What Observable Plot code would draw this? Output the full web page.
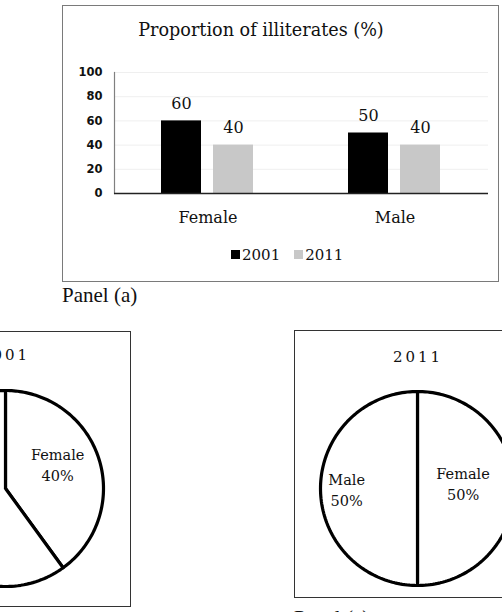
<!DOCTYPE html>
<html><head><meta charset="utf-8">
<script src="https://cdn.jsdelivr.net/npm/d3@7"></script>
<script src="https://cdn.jsdelivr.net/npm/@observablehq/plot@0.6"></script>
<style>
body{margin:0;background:#fff;}
#root{position:relative;width:502px;height:612px;overflow:hidden;background:#fff;}
.abs{position:absolute;}
.lg-swatch{margin-right:14px !important;}
.lg-swatch > svg{margin-right:2px !important;}
</style></head><body><div id="root"></div>
<script>
// ---- data ----
const genders = ["Female", "Male"];
const years = ["2001", "2011"];
const illiterate2001 = [60, 50];
const illiterate2011 = [40, 40];
const yTicks = [0, 20, 40, 60, 80, 100];
const pieNames2001 = ["Female", "Male"];
const pieShares2001 = [40, 60];
const pieNames2011 = ["Female", "Male"];
const pieShares2011 = [50, 50];
const barTitle = "Proportion of illiterates (%)";
const pieTitles = ["2001", "2011"];
const panelLabels = ["Panel (a)", "Panel (c)"];
const yearColors = ["#000000", "#c8c8c8"];

const root = document.getElementById("root");
function place(el, css) { el.classList.add("abs"); Object.assign(el.style, css); root.appendChild(el); return el; }
function div(text, css) { const d = document.createElement("div"); d.textContent = text; return place(d, css); }

// ---- Panel (a) box ----
div("", {left: "62px", top: "5px", width: "437px", height: "277px", boxSizing: "border-box", border: "1px solid #7a7a7a"});
div(barTitle, {left: "61px", top: "18px", width: "400px", textAlign: "center", fontFamily: "'DejaVu Serif'", fontSize: "17.6px", lineHeight: "24px", color: "#111"});

const rows = genders.flatMap((g, i) => [
  {gender: g, year: years[0], value: illiterate2001[i]},
  {gender: g, year: years[1], value: illiterate2011[i]}
]);

const bar = Plot.plot({
  width: 436, height: 173,
  marginLeft: 50, marginRight: 11, marginTop: 11, marginBottom: 41,
  fx: {domain: genders, padding: 0, label: null},
  x: {domain: years, paddingInner: 0.226, paddingOuter: 0.882, axis: null},
  y: {domain: [0, 100], label: null},
  color: {domain: years, range: yearColors},
  style: {fontFamily: "'DejaVu Serif'", fontSize: "16px", color: "#111", background: "transparent", overflow: "visible"},
  marks: [
    Plot.gridY(yTicks.slice(1), {stroke: "#efefef", strokeOpacity: 1}),
    Plot.frame({anchor: "left", facetAnchor: "left", stroke: "#808080", strokeWidth: 1.2}),
    Plot.axisY(yTicks, {tickSize: 0, tickPadding: 12, fontFamily: "'DejaVu Sans'", fontWeight: "bold", fontSize: 11.5, label: null}),
    Plot.axisFx({anchor: "bottom", tickSize: 0, tickPadding: 18, fontSize: 16, label: null}),
    Plot.barY(rows, {fx: "gender", x: "year", y: "value", fill: "year"}),
    Plot.ruleY([0], {stroke: "#222", strokeWidth: 1.3}),
    Plot.text(rows, {fx: "gender", x: "year", y: "value", text: d => String(d.value), dy: -17, fontSize: 16, fill: "#111"})
  ]
});
place(bar, {left: "63px", top: "61px"});

const legend = bar.legend("color", {legend: "swatches", swatchSize: 9, className: "lg",
  style: {fontFamily: "'DejaVu Serif'", fontSize: "15px", color: "#111", margin: "0"}});
place(legend, {left: "231px", top: "238px"});

div(panelLabels[0], {left: "62px", top: "282px", fontFamily: "'Liberation Serif'", fontSize: "21px", lineHeight: "26px", color: "#111"});

// ---- pies ----
function piePlot(names, shares, r, labelRadius, labelDy) {
  const arcs = d3.pie().sort(null).value(d => d)(shares);
  const pts = [];
  const labels = [];
  arcs.forEach((a, i) => {
    pts.push({slice: i, x: 0, y: 0});
    const n = 120;
    for (let k = 0; k <= n; k++) {
      const t = a.startAngle + (a.endAngle - a.startAngle) * k / n;
      pts.push({slice: i, x: Math.sin(t), y: Math.cos(t)});
    }
    pts.push({slice: i, x: 0, y: 0});
    const mid = (a.startAngle + a.endAngle) / 2;
    const f = labelRadius[i];
    labels.push({x: Math.sin(mid) * f, y: Math.cos(mid) * f, dy: labelDy[i], text: names[i] + "\n" + shares[i] + "%"});
  });
  const m = 3;
  return Plot.plot({
    width: 2 * r + 2 * m, height: 2 * r + 2 * m,
    margin: m,
    x: {domain: [-1, 1], axis: null},
    y: {domain: [-1, 1], axis: null},
    style: {background: "transparent", overflow: "visible"},
    marks: [
      Plot.line(pts, {x: "x", y: "y", z: "slice", fill: "white", stroke: "#000", strokeWidth: 3.2, strokeLinejoin: "round"}),
      ...labels.map(l => Plot.text([l], {x: "x", y: "y", text: "text", dy: l.dy, fontFamily: "'DejaVu Serif'", fontSize: 14.5, lineHeight: 1.45, fill: "#111"}))
    ]
  });
}

// 2001 box (left, partly cut)
div("", {left: "-10px", top: "331px", width: "141px", height: "276px", boxSizing: "border-box", border: "1px solid #333"});
div(pieTitles[0], {left: "-45px", top: "345px", width: "100px", textAlign: "center", fontFamily: "'DejaVu Serif'", fontSize: "15px", letterSpacing: "3px", lineHeight: "20px", color: "#111"});
place(piePlot(pieNames2001, pieShares2001, 98, [0.56, 0.56], [-8, 0]), {left: "-96px", top: "387px"});

// 2011 box (right, partly cut)
div("", {left: "294px", top: "330px", width: "260px", height: "268px", boxSizing: "border-box", border: "1px solid #333"});
div(pieTitles[1], {left: "368px", top: "347px", width: "100px", textAlign: "center", fontFamily: "'DejaVu Serif'", fontSize: "15px", letterSpacing: "3px", lineHeight: "20px", color: "#111"});
place(piePlot(pieNames2011, pieShares2011, 97, [0.47, 0.73], [-6, 0]), {left: "317px", top: "388px"});

div(panelLabels[1], {left: "294px", top: "605px", fontFamily: "'Liberation Serif'", fontSize: "21px", lineHeight: "26px", color: "#111"});
</script>
</body></html>
